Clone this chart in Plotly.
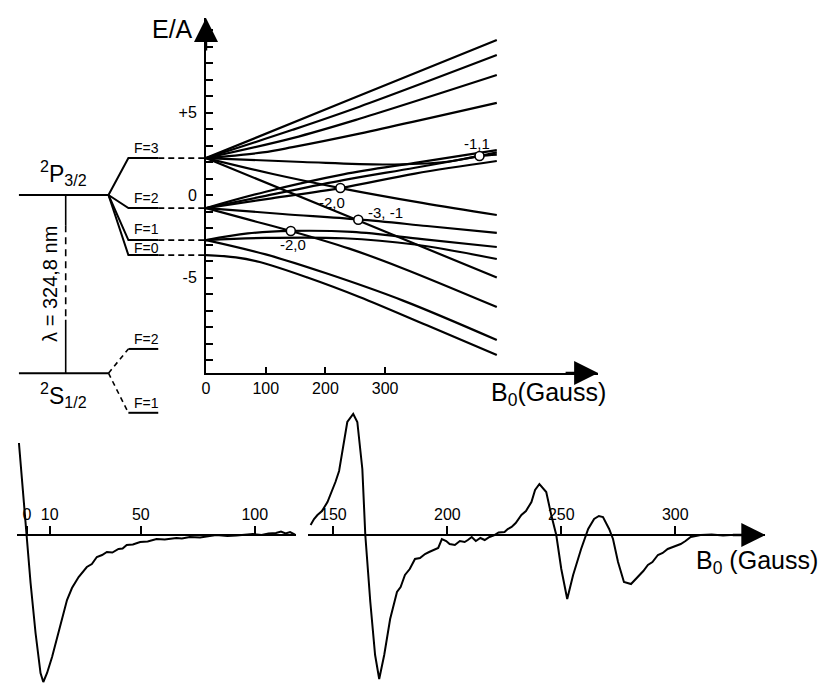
import plotly.graph_objects as go

# ---------------- data ----------------
# 2P3/2 hyperfine levels at B0 = 0 (in units of A)
P_F = ["F=3", "F=2", "F=1", "F=0"]
P_E = [2.24, -0.79, -2.73, -3.64]
# 2S1/2 (schematic position) and its hyperfine levels
S_E = -10.8
S_F = ["F=2", "F=1"]
S_FE = [-9.33, -13.2]

# Zeeman curves: E/A versus B0 (Gauss)
F3_p3_B = [0, 243, 487];                    F3_p3_E = [2.24, 5.82, 9.39]
F3_p2_B = [0, 145, 257, 487];               F3_p2_E = [2.24, 3.95, 5.35, 8.48]
F3_p1_B = [0, 145, 257, 487];               F3_p1_E = [2.24, 3.45, 4.62, 7.27]
F3_0_B = [0, 95, 145, 257, 487];            F3_0_E = [2.24, 2.58, 2.9, 3.72, 5.58]
F3_m1_B = [0, 162, 300, 400, 458, 487];     F3_m1_E = [2.24, 2.0, 1.85, 2.0, 2.36, 2.45]
F3_m2_B = [0, 112, 225, 362, 487];          F3_m2_E = [2.24, 1.27, 0.42, -0.48, -1.21]
F3_m3_B = [0, 255, 487];                    F3_m3_E = [2.24, -1.55, -5.0]
F2_p2_B = [0, 100, 230, 350, 487];          F2_p2_E = [-0.79, 0.2, 1.25, 1.95, 2.72]
F2_p1_B = [0, 100, 230, 350, 458, 487];     F2_p1_E = [-0.79, -0.05, 0.9, 1.65, 2.36, 2.58]
F2_0_B = [0, 110, 225, 350, 487];           F2_0_E = [-0.79, -0.2, 0.42, 1.3, 2.06]
F2_m1_B = [0, 128, 255, 370, 487];          F2_m1_E = [-0.79, -1.15, -1.48, -1.88, -2.3]
F2_m2_B = [0, 70, 142, 240, 328, 487];      F2_m2_E = [-0.79, -1.48, -2.18, -3.25, -4.42, -6.79]
F1_0_B = [0, 70, 142, 245, 362, 487];       F1_0_E = [-2.73, -2.33, -2.18, -2.24, -2.67, -3.15]
F1_p1_B = [0, 100, 230, 350, 487];          F1_p1_E = [-2.73, -2.6, -2.62, -3.0, -3.88]
F1_m1_B = [0, 100, 200, 330, 487];          F1_m1_E = [-2.73, -3.6, -4.73, -6.4, -8.79]
F0_0_B = [0, 50, 90, 170, 257, 370, 487];   F0_0_E = [-3.64, -3.78, -4.06, -5.0, -6.18, -7.9, -9.7]

# level crossings (circles) and their labels
cross_B = [458, 225, 255, 142]
cross_E = [2.36, 0.42, -1.5, -2.18]
cross_lbl = ["-1,1", "-2,0", "-3, -1", "-2,0"]

# axis ticks
top_xticks = [0, 100, 200, 300]
top_ylabels = [5, 0, -5]
top_ylabel_text = ["+5", "0", "-5"]
low_ticks_a = [0, 10, 50, 100]
low_ticks_b = [150, 200, 250, 300]

# measured signals (arbitrary units) versus B0 (Gauss)
sigA_B = [-3.49, -2.05, -1.0, -0.13, 1.62, 3.8, 5.98, 7.2, 8.86, 11.05, 13.23, 15.41, 17.6,
          19.78, 22.7, 26.3, 28.5, 30.7, 33.0, 35.1, 37.5, 40.2, 42.0, 43.8, 46.5, 49.7, 53.0,
          56.9, 60.5, 65.6, 68.0, 71.5, 76.0, 83.1, 88.0, 92.0, 96.0, 99.1, 103.0, 106.0,
          109.3, 111.5, 113.5, 115.5, 118.0]
sigA_S = [9.2, 5.2, 2.5, -0.2, -4.8, -9.8, -13.8, -14.7, -13.8, -12.2, -10.2, -8.2, -6.5,
          -5.3, -4.2, -3.2, -2.9, -2.2, -2.0, -1.7, -1.75, -1.4, -1.35, -1.0, -0.95, -0.7,
          -0.65, -0.4, -0.45, -0.3, -0.35, -0.2, -0.25, 0.0, -0.1, -0.05, 0.05, 0.1, 0.0,
          0.15, 0.2, 0.35, 0.15, 0.3, 0.0]
sigB_B = [140.0, 141.5, 143.0, 145.0, 147.4, 149.0, 150.9, 152.5, 153.9, 155.0, 156.1, 158.7,
          160.5, 162.7, 164.0, 166.2, 168.3, 170.1, 172.3, 174.9, 177.9, 179.5, 181.4, 183.5,
          185.8, 188.0, 190.2, 192.0, 194.5, 196.0, 197.6, 199.5, 201.0, 203.3, 205.5, 207.6,
          209.0, 210.7, 212.5, 214.5, 216.4, 218.5, 220.7, 222.5, 225.1, 226.5, 228.2, 230.0,
          232.5, 234.5, 236.9, 238.5, 240.4, 243.4, 245.6, 247.8, 250.0, 252.6, 255.2, 258.7,
          261.8, 264.4, 266.5, 268.3, 271.0, 272.7, 274.9, 277.5, 280.6, 283.6, 286.0, 288.0,
          290.0, 292.4, 294.5, 296.7, 299.0, 302.4, 304.5, 306.8, 309.0, 311.1, 316.0, 321.0,
          324.2]
sigB_S = [1.0, 1.6, 2.0, 2.4, 3.3, 4.2, 5.3, 6.4, 8.3, 9.6, 11.3, 12.1,
          11.3, 6.6, 0.0, -6.7, -12.0, -14.4, -12.0, -8.4, -5.7, -5.2, -4.0, -3.4,
          -2.4, -2.3, -1.9, -1.7, -1.4, -1.3, -0.4, -0.6, -0.9, -1.0, -0.6, -0.7,
          -0.5, -0.2, -0.6, -0.3, -0.5, -0.2, 0.0, 0.25, 0.3, 0.6, 0.8, 1.2,
          2.0, 2.4, 3.3, 4.5, 5.1, 4.3, 2.0, 0.0, -3.4, -6.4, -4.0, -1.4,
          0.6, 1.6, 1.9, 1.8, 0.6, -0.4, -2.7, -4.7, -4.9, -4.2, -3.6, -3.0,
          -2.7, -2.0, -1.8, -1.4, -1.2, -0.9, -0.6, -0.2, -0.1, 0.0, 0.05, -0.05,
          0.0]

# ---------------- layout helpers ----------------
W, H = 825, 683
FONT = "Liberation Sans"


def fx(p):
    return p / W


def fy(p):
    return 1 - p / H


# top diagram: E/A scale 16.5 px per unit, E=0 at 195 px, B scale 0.6 px/G from 203 px
PX_PER_E = 16.5
Y0PX = 195.0
E_of = lambda p: (Y0PX - p) / PX_PER_E
Y_TOP, Y_BOT, Y_BOT2 = 18, 373, 430
X_AX, X_END = 203, 597
B_END = (X_END - X_AX) / 0.6

# lower spectra: 2.29 px per Gauss, signal 10 px per unit, zero line at 535 px
LOW_TOP, LOW_ZERO = 405, 535
S_RANGE = [(LOW_ZERO - H) / 10, (LOW_ZERO - LOW_TOP) / 10]
ya_dom = [0, fy(LOW_TOP)]
zero_pos = ya_dom[0] + (0 - S_RANGE[0]) / (S_RANGE[1] - S_RANGE[0]) * (ya_dom[1] - ya_dom[0])
XA_L, XA_R, XA0 = 13, 293, 23
XB_L, XB_R, XB150 = 305, 765, 331
PXG = 2.29

fig = go.Figure()

curves = [
    (F3_p3_B, F3_p3_E), (F3_p2_B, F3_p2_E), (F3_p1_B, F3_p1_E), (F3_0_B, F3_0_E),
    (F3_m1_B, F3_m1_E), (F3_m2_B, F3_m2_E), (F3_m3_B, F3_m3_E),
    (F2_p2_B, F2_p2_E), (F2_p1_B, F2_p1_E), (F2_0_B, F2_0_E), (F2_m1_B, F2_m1_E),
    (F2_m2_B, F2_m2_E), (F1_0_B, F1_0_E), (F1_p1_B, F1_p1_E), (F1_m1_B, F1_m1_E),
    (F0_0_B, F0_0_E),
]
for b, e in curves:
    fig.add_trace(go.Scatter(x=b, y=e, mode="lines", line=dict(color="black", width=2.2, shape="spline"),
                             hoverinfo="skip", xaxis="x", yaxis="y"))

fig.add_trace(go.Scatter(x=cross_B, y=cross_E, mode="markers",
                         marker=dict(size=9, color="white", line=dict(color="black", width=1.6)),
                         xaxis="x", yaxis="y", hoverinfo="skip"))

# ---------- level scheme (left) ----------
X_L0, X_SPLIT, X_KINK, X_LEND = 15, 105, 125, 155
X_LAM = 62
k = dict(xaxis="x2", yaxis="y2", mode="lines", hoverinfo="skip")
fig.add_trace(go.Scatter(x=[X_L0, X_SPLIT], y=[0, 0], line=dict(color="black", width=2), **k))
for e in P_E:
    fig.add_trace(go.Scatter(x=[X_SPLIT, X_KINK, X_LEND], y=[0, e, e], line=dict(color="black", width=2), **k))
    fig.add_trace(go.Scatter(x=[X_LEND, X_AX], y=[e, e], line=dict(color="black", width=1.8, dash="6px,4px"), **k))
fig.add_trace(go.Scatter(x=[X_L0, X_SPLIT], y=[S_E, S_E], line=dict(color="black", width=2), **k))
for e in S_FE:
    fig.add_trace(go.Scatter(x=[X_SPLIT, X_KINK], y=[S_E, e], line=dict(color="black", width=1.6, dash="5px,4px"), **k))
    fig.add_trace(go.Scatter(x=[X_KINK, X_LEND], y=[e, e], line=dict(color="black", width=2), **k))
E_a, E_b = S_E * 0.17, S_E * 0.70
fig.add_trace(go.Scatter(x=[X_LAM, X_LAM], y=[0, E_a], line=dict(color="black", width=1.6), **k))
fig.add_trace(go.Scatter(x=[X_LAM, X_LAM], y=[E_a, E_b], line=dict(color="black", width=1.6, dash="7px,5px"), **k))
fig.add_trace(go.Scatter(x=[X_LAM, X_LAM], y=[E_b, S_E], line=dict(color="black", width=1.6), **k))

# ---------- spectra ----------
fig.add_trace(go.Scatter(x=sigA_B, y=sigA_S, mode="lines", line=dict(color="black", width=2),
                         xaxis="x3", yaxis="y3", hoverinfo="skip"))
fig.add_trace(go.Scatter(x=sigB_B, y=sigB_S, mode="lines", line=dict(color="black", width=2),
                         xaxis="x4", yaxis="y3", hoverinfo="skip"))

ax_common = dict(showline=True, linecolor="black", linewidth=2, showgrid=False, zeroline=False,
                 tickcolor="black", tickwidth=2, tickfont=dict(family=FONT, size=16, color="black"))

fig.update_layout(
    width=W, height=H, margin=dict(l=0, r=0, t=0, b=0),
    paper_bgcolor="white", plot_bgcolor="rgba(0,0,0,0)", showlegend=False,
    font=dict(family=FONT, color="black"),
    xaxis=dict(domain=[fx(X_AX), fx(X_END)], range=[0, B_END], anchor="y",
               ticks="inside", ticklen=6, tickvals=top_xticks,
               ticktext=[str(v) for v in top_xticks], **ax_common),
    yaxis=dict(domain=[fy(Y_BOT), fy(Y_TOP)], range=[E_of(Y_BOT), E_of(Y_TOP)], anchor="x",
               ticks="inside", ticklen=7, tickvals=top_ylabels, ticktext=top_ylabel_text,
               minor=dict(ticks="inside", ticklen=7, tickwidth=2, tickcolor="black", dtick=1, tick0=0,
                          showgrid=False),
               ticklabelstandoff=4, **ax_common),
    xaxis2=dict(domain=[0, fx(X_AX)], range=[0, X_AX], anchor="y2", visible=False),
    yaxis2=dict(domain=[fy(Y_BOT2), fy(Y_TOP)], range=[E_of(Y_BOT2), E_of(Y_TOP)], anchor="x2", visible=False),
    xaxis3=dict(domain=[fx(XA_L), fx(XA_R)], range=[(XA_L - XA0) / PXG, (XA_R - XA0) / PXG],
                anchor="free", position=zero_pos, side="top", ticks="outside", ticklen=8,
                tickvals=low_ticks_a, ticktext=[str(v) for v in low_ticks_a], **ax_common),
    xaxis4=dict(domain=[fx(XB_L), fx(XB_R)], range=[150 + (XB_L - XB150) / PXG, 150 + (XB_R - XB150) / PXG],
                anchor="free", position=zero_pos, side="top", ticks="outside", ticklen=8,
                tickvals=low_ticks_b, ticktext=[str(v) for v in low_ticks_b], **ax_common),
    yaxis3=dict(domain=ya_dom, range=S_RANGE, anchor="x3", visible=False),
)

ann = []
arrow = dict(text="", showarrow=True, arrowhead=2, arrowsize=2.0, arrowwidth=2.4, arrowcolor="black")
ann.append(dict(x=0, y=E_of(Y_TOP), xref="x", yref="y", ax=0, ay=34, **arrow))
ann.append(dict(x=B_END, y=E_of(Y_BOT), xref="x", yref="y", ax=-34, ay=0, **arrow))
ann.append(dict(x=150 + (XB_R - XB150) / PXG, y=zero_pos, xref="x4", yref="paper", ax=-34, ay=0, **arrow))

c = dict(xanchor="center", yanchor="middle", showarrow=False)
# axis titles
ann.append(dict(x=fx(169), y=fy(29), xref="paper", yref="paper", text="E/A",
                font=dict(size=25, family=FONT), **c))
ann.append(dict(x=fx(547), y=fy(394), xref="paper", yref="paper", text="B<sub>0</sub>(Gauss)",
                font=dict(size=25, family=FONT), **c))
ann.append(dict(x=fx(757), y=fy(562), xref="paper", yref="paper", text="B<sub>0</sub> (Gauss)",
                font=dict(size=25, family=FONT), **c))

# crossing labels
offs = [(-2, 13), (-8, -14), (27, 7), (2, -14)]
for b, e, t, (dx, dy) in zip(cross_B, cross_E, cross_lbl, offs):
    ann.append(dict(x=b, y=e, xref="x", yref="y", text=t, xshift=dx, yshift=dy,
                    font=dict(size=15, family=FONT), **c))

# level scheme labels
f_shift = [10, 10, 11, 7]
for t, e, s in zip(P_F, P_E, f_shift):
    ann.append(dict(x=(X_KINK + X_LEND) / 2 + 3, y=e, xref="x2", yref="y2", text=t,
                    yshift=s, font=dict(size=14, family=FONT), **c))
for t, e in zip(S_F, S_FE):
    ann.append(dict(x=(X_KINK + X_LEND) / 2 + 3, y=e, xref="x2", yref="y2", text=t,
                    yshift=10, font=dict(size=14, family=FONT), **c))
ann.append(dict(x=60, y=0, xref="x2", yref="y2", text="<sup>2</sup>P<sub>3/2</sub>",
                yshift=22, font=dict(size=23, family=FONT), **c))
ann.append(dict(x=60, y=S_E, xref="x2", yref="y2", text="<sup>2</sup>S<sub>1/2</sub>",
                yshift=-22, font=dict(size=23, family=FONT), **c))
ann.append(dict(x=46, y=S_E / 2, xref="x2", yref="y2", text="λ = 324,8 nm",
                textangle=-90, font=dict(size=20, family=FONT), **c))

fig.update_layout(annotations=ann)
fig.write_html("out.html")
